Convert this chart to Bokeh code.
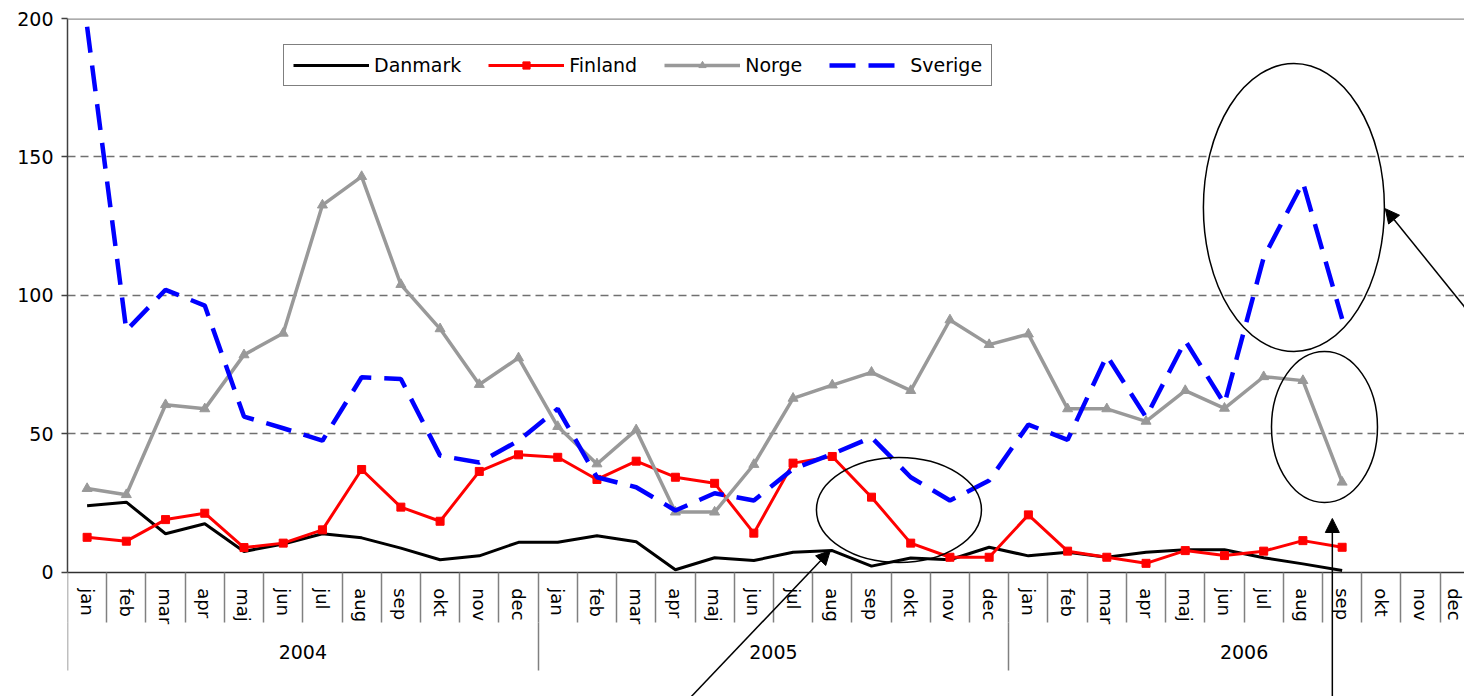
from bokeh.plotting import figure
from bokeh.models import (Range1d, FixedTicker, LinearAxis, Legend, LegendItem,
                          Arrow, NormalHead, Span)
from bokeh.embed import file_html
from bokeh.resources import INLINE

years = ["2004", "2005", "2006"]
months = ["jan", "feb", "mar", "apr", "maj", "jun", "jul", "aug", "sep", "okt", "nov", "dec"]

danmark = [24, 25.3, 13.9, 17.5, 7.5, 10.2, 13.9, 12.4, 8.7, 4.5, 5.9, 10.8,
           10.8, 13.2, 11, 0.9, 5.2, 4.2, 7.2, 7.8, 2.2, 5.1, 4.5, 9.0,
           5.9, 7.2, 5.4, 7.2, 8.1, 8.1, 5.2, 3.0, 0.6]
finland = [12.6, 11.2, 19, 21.3, 8.9, 10.5, 15.3, 37.1, 23.5, 18.4, 36.4, 42.4,
           41.5, 33.5, 40.1, 34.3, 32.1, 14.1, 39.4, 41.8, 27.1, 10.5, 5.4, 5.4,
           20.7, 7.6, 5.4, 3.2, 7.8, 6.0, 7.6, 11.4, 9.0]
norge = [30.2, 28, 60.5, 59, 78.5, 86.3, 132.6, 142.9, 103.9, 87.9, 67.8, 77.4,
         52.6, 39.1, 51.4, 21.7, 21.7, 38.9, 62.8, 67.6, 72.2, 65.6, 91.1, 82.2,
         86, 59, 59, 54.5, 65.6, 59.2, 70.6, 69.2, 32.5]
sverige = [197, 87.3, 102, 96.3, 56.2, 52, 47.5, 70.4, 69.8, 42.1, 39.6, 47.5,
           59, 34.3, 30.7, 22.3, 28.5, 25.9, 37.3, 42.7, 48.7, 34.3, 25.9, 33.1,
           53.3, 47.8, 78.2, 56, 83.6, 60.8, 113.7, 140.8, 91.5]

y_ticks = [0, 50, 100, 150, 200]
grid_ticks = [50, 100, 150]

# annotation shapes (data coords for centres, screen px for sizes)
ell_x = [21.2, 31.27, 32.05]
ell_y = [22.45, 131.7, 52.45]
ell_w = [165, 181, 106]
ell_h = [105, 288, 151]
arrows = [((15.33, -53.5), (19.45, 7.83)),
          ((32.25, -53.5), (32.25, 19.4)),
          ((36.62, 78.3), (33.6, 131.3))]

FONT = "DejaVu Sans"
n_cat = len(years) * len(months)
xs = [i + 0.5 for i in range(len(danmark))]

p = figure(width=1464, height=696, x_range=Range1d(0, 35.62), y_range=Range1d(-44.9, 200),
           output_backend="svg", toolbar_location=None,
           min_border_left=67, min_border_right=0, min_border_top=18, min_border_bottom=0,
           x_axis_type=None)
p.outline_line_color = None
p.background_fill_color = "white"

# y axis
p.yaxis.ticker = FixedTicker(ticks=y_ticks)
p.yaxis.bounds = (0, 200)
p.yaxis.minor_tick_line_color = None
p.yaxis.major_tick_out = 6
p.yaxis.major_tick_in = 0
p.yaxis.major_tick_line_color = "#404040"
p.yaxis.major_tick_line_width = 1.5
p.yaxis.axis_line_color = "#404040"
p.yaxis.axis_line_width = 1.5
p.yaxis.major_label_text_font = FONT
p.yaxis.major_label_text_font_size = "19px"
p.yaxis.major_label_text_color = "black"
p.yaxis.major_label_standoff = 8

p.ygrid.ticker = FixedTicker(ticks=grid_ticks)
p.ygrid.grid_line_color = "#707070"
p.ygrid.grid_line_dash = "8 5"
p.ygrid.grid_line_width = 1.5
p.xgrid.grid_line_color = None
p.add_layout(Span(location=200, dimension="width", line_color="#909090", line_width=2.5))

# month axis (fixed at y = 0)
centers = [i + 0.5 for i in range(n_cat)]
bounds = [float(i) for i in range(n_cat)]
mlabels = {}
for yi, yr in enumerate(years):
    for mi, m in enumerate(months):
        mlabels[yi * 12 + mi + 0.5] = m
max_ax = LinearAxis(ticker=FixedTicker(ticks=centers, minor_ticks=bounds),
                    major_label_overrides=mlabels, fixed_location=0)
max_ax.major_label_orientation = "vertical"
max_ax.major_tick_out = 0
max_ax.major_tick_in = 0
max_ax.major_tick_line_color = None
max_ax.minor_tick_out = 50
max_ax.minor_tick_in = 0
max_ax.minor_tick_line_color = "#808080"
max_ax.minor_tick_line_width = 1.5
max_ax.axis_line_color = "#303030"
max_ax.axis_line_width = 1.5
max_ax.major_label_text_font = FONT
max_ax.major_label_text_font_size = "18px"
max_ax.major_label_text_color = "black"
max_ax.major_label_standoff = -34
p.add_layout(max_ax, "below")

# year axis (fixed just under the month row)
yr_ax = LinearAxis(ticker=FixedTicker(ticks=[6 + 12 * i for i in range(len(years))],
                                      minor_ticks=[12.0 * i for i in range(len(years))]),
                   major_label_overrides={6 + 12 * i: y for i, y in enumerate(years)},
                   fixed_location=-18.05)
yr_ax.axis_line_color = None
yr_ax.major_tick_line_color = None
yr_ax.major_tick_out = 0
yr_ax.major_tick_in = 0
yr_ax.minor_tick_in = 0
yr_ax.minor_tick_out = 48
yr_ax.minor_tick_line_color = "#808080"
yr_ax.minor_tick_line_width = 1.5
yr_ax.major_label_text_font = FONT
yr_ax.major_label_text_font_size = "19px"
yr_ax.major_label_text_color = "black"
yr_ax.major_label_standoff = -25
p.add_layout(yr_ax, "below")

# series
r_dk = p.line(xs, danmark, line_color="black", line_width=3)
r_fi = p.line(xs, finland, line_color="#FF0000", line_width=3)
r_fi_m = p.scatter(xs, finland, marker="square", size=8, fill_color="#FF0000", line_color="#FF0000")
r_no = p.line(xs, norge, line_color="#999999", line_width=3.5)
r_no_m = p.scatter(xs, norge, marker="triangle", size=10, fill_color="#999999", line_color="#999999")
r_se = p.line(xs, sverige, line_color="#0000FF", line_width=4.5, line_dash="26 13")

# annotations
p.ellipse(x=ell_x, y=ell_y, width=ell_w, height=ell_h, width_units="screen",
          height_units="screen", fill_color=None, line_color="black", line_width=1.5)
for (x0, y0), (x1, y1) in arrows:
    p.add_layout(Arrow(end=NormalHead(size=14, fill_color="black", line_color="black"),
                       x_start=x0, y_start=y0, x_end=x1, y_end=y1,
                       line_color="black", line_width=1.5))

legend = Legend(items=[LegendItem(label="Danmark", renderers=[r_dk]),
                       LegendItem(label="Finland", renderers=[r_fi, r_fi_m]),
                       LegendItem(label="Norge", renderers=[r_no, r_no_m]),
                       LegendItem(label="Sverige", renderers=[r_se])],
                orientation="horizontal", location=(216, 610))
legend.label_text_font = FONT
legend.label_text_font_size = "19px"
legend.label_text_color = "black"
legend.glyph_width = 76
legend.glyph_height = 18
legend.label_standoff = 5
legend.spacing = 27
legend.padding = 9
legend.margin = 0
legend.border_line_color = "black"
legend.border_line_width = 1
legend.background_fill_alpha = 1
p.add_layout(legend, "center")

open("out.html", "w").write(file_html(p, INLINE))
